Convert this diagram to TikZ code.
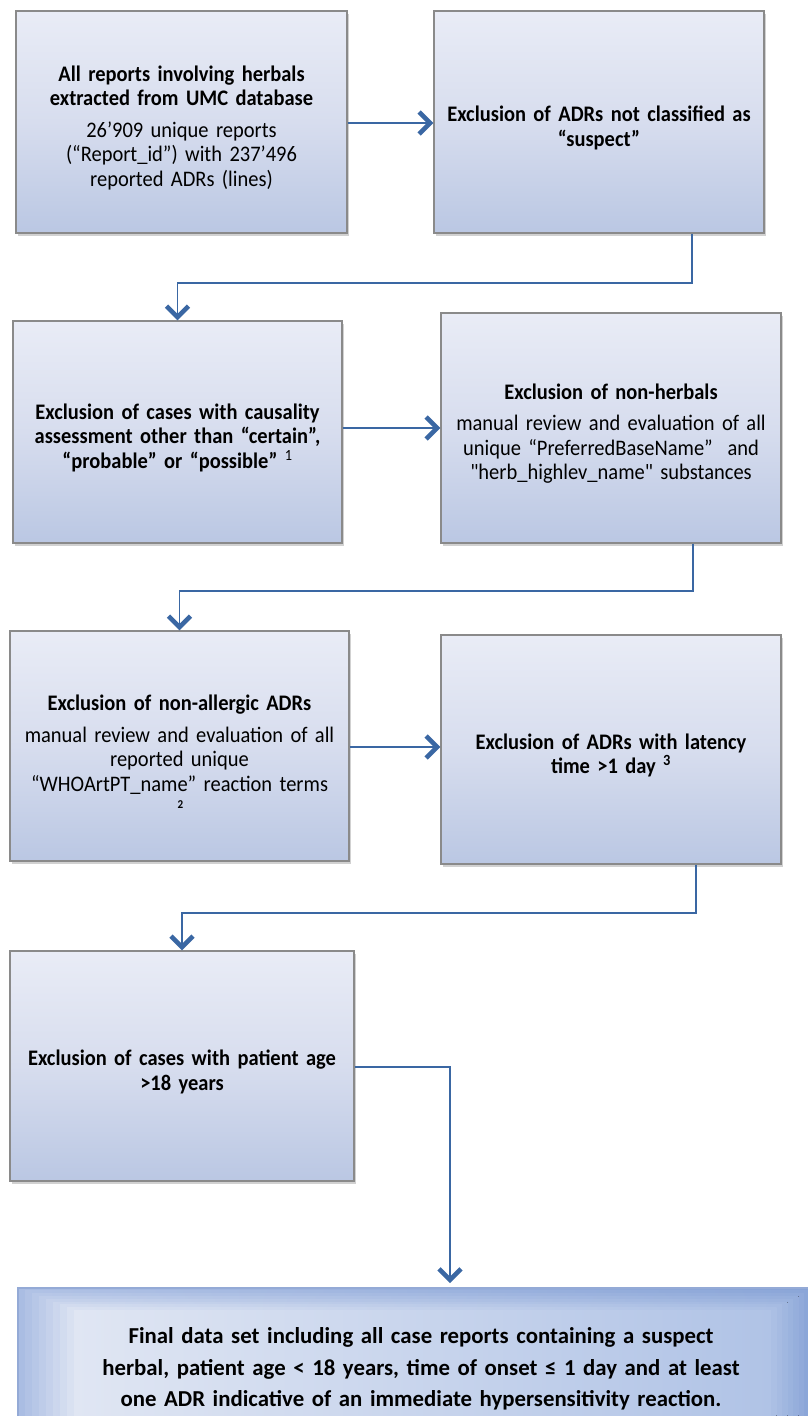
\documentclass[tikz,border=0pt]{standalone}
\usepackage{fontspec}
\setmainfont{Carlito}[Ligatures=TeXOff, FakeStretch=0.923]
\newfontfamily\finalfont{Carlito}[Ligatures=TeXOff]
\usetikzlibrary{arrows.meta,shadows,calc}
\definecolor{boxtop}{RGB}{233,236,246}
\definecolor{boxmid}{RGB}{215,221,238}
\definecolor{boxbot}{RGB}{186,199,227}
\definecolor{boxline}{RGB}{138,138,138}
\definecolor{arrowblue}{RGB}{58,103,163}
\definecolor{fOutL}{RGB}{170,189,227}
\definecolor{fOutR}{RGB}{134,162,214}
\definecolor{fInL}{RGB}{224,230,243}
\definecolor{fInR}{RGB}{176,195,230}
\definecolor{fEdge}{RGB}{148,170,214}
\tikzset{
  stepbox/.style={draw=boxline, line width=1.3pt, top color=boxtop, bottom color=boxbot, middle color=boxmid,
    drop shadow={shadow xshift=1.5pt, shadow yshift=-2.5pt, fill=black, opacity=0.18},
    inner sep=0pt, align=center, font=\fontsize{22.2}{24.5}\selectfont,
    execute at begin node={\rule{0pt}{27pt}}},
  arr/.style={draw=arrowblue, line width=1.7pt, -{Straight Barb[length=11pt,width=22pt,line width=4.6pt]}},
  finaltext/.style={inner sep=0pt, align=center, font=\finalfont\fontsize{22.8}{31.5}\selectfont\bfseries}
}
\begin{document}
\begin{tikzpicture}[x=1pt,y=-1pt]
\useasboundingbox (0,0) rectangle (807,1416);
% boxes
\node[stepbox, minimum width=331, minimum height=222, text width=329] (b1) at (181.5,122)
  {{\bfseries All reports involving herbals\\ extracted from UMC database}\\[7pt]
   26’909 unique reports\\(“Report\_id”) with 237’496\\reported ADRs (lines)};
\node[stepbox, minimum width=330, minimum height=222, text width=328] (b2) at (599,122)
  {\bfseries Exclusion of ADRs not classified as\\ “suspect”};
\node[stepbox, minimum width=329, minimum height=222, text width=327] (b3) at (177.5,432)
  {\bfseries Exclusion of cases with causality\\ assessment other than “certain”,\\ “probable” or “possible” \textsuperscript{\mdseries 1}};
\node[stepbox, minimum width=340, minimum height=230, text width=338] (b4) at (611,428)
  {{\bfseries Exclusion of non-herbals}\\[7pt]
   manual review and evaluation of all\\ unique “PreferredBaseName”\ \ and\\ "herb\_highlev\_name" substances};
\node[stepbox, minimum width=339, minimum height=230, text width=337] (b5) at (179.5,746)
  {{\bfseries Exclusion of non-allergic ADRs}\\[7pt]
   manual review and evaluation of all\\ reported unique\\
   “WHOArtPT\_nam\rlap{\raisebox{-0.75em}{\fontsize{12}{12}\selectfont\bfseries 2}}e” reaction terms};
\node[stepbox, minimum width=340, minimum height=229, text width=338] (b6) at (611,749.5)
  {\bfseries Exclusion of ADRs with latency\\ time >1 day \textsuperscript{3}};
\node[stepbox, minimum width=344, minimum height=230, text width=342] (b7) at (182,1066)
  {\bfseries Exclusion of cases with patient age\\ >18 years};
% final box background (soft glow built from nested solid shadings)
\foreach \i in {0,...,8}{
  \pgfmathsetmacro{\p}{100*\i/8}
  \pgfmathsetmacro{\xl}{18+7*\i}
  \pgfmathsetmacro{\yt}{1288+2.8*\i}
  \pgfmathsetmacro{\xr}{815-5.5*\i}
  \pgfmathsetmacro{\yb}{1424}
  \fill[left color=fInL!\p!fOutL, right color=fInR!\p!fOutR] (\xl,\yt) rectangle (\xr,\yb);
}
\draw[fEdge, line width=1.2pt] (18,1420) -- (18,1288) -- (812,1288);
\node[finaltext, minimum width=789, text width=770] (b8) at (421,1369)
  {Final data set including all case reports containing a suspect\\
   herbal, patient age < 18 years, time of onset ≤ 1 day and at least\\
   one ADR indicative of an immediate hypersensitivity reaction.};
% connectors
\coordinate (k1) at (692,283);
\coordinate (k2) at (693,591);
\coordinate (k3) at (696,913);
\coordinate (k4) at (450,1283);
\draw[arr] (b1.east |- 0,123) -- (b2.west |- 0,123);
\draw[arr] (b2.south -| k1) -- (k1) -| (b3.north);
\draw[arr] (b4.west -| b3.east) -- (b4.west);
\draw[arr] (b4.south -| k2) -- (k2) -| (b5.north);
\draw[arr] (b5.east |- 0,747) -- (b6.west |- 0,747);
\draw[arr] (b6.south -| k3) -- (k3) -| (b7.north);
\draw[arr] (b7.east |- 0,1067) -| (k4);
\end{tikzpicture}
\end{document}
